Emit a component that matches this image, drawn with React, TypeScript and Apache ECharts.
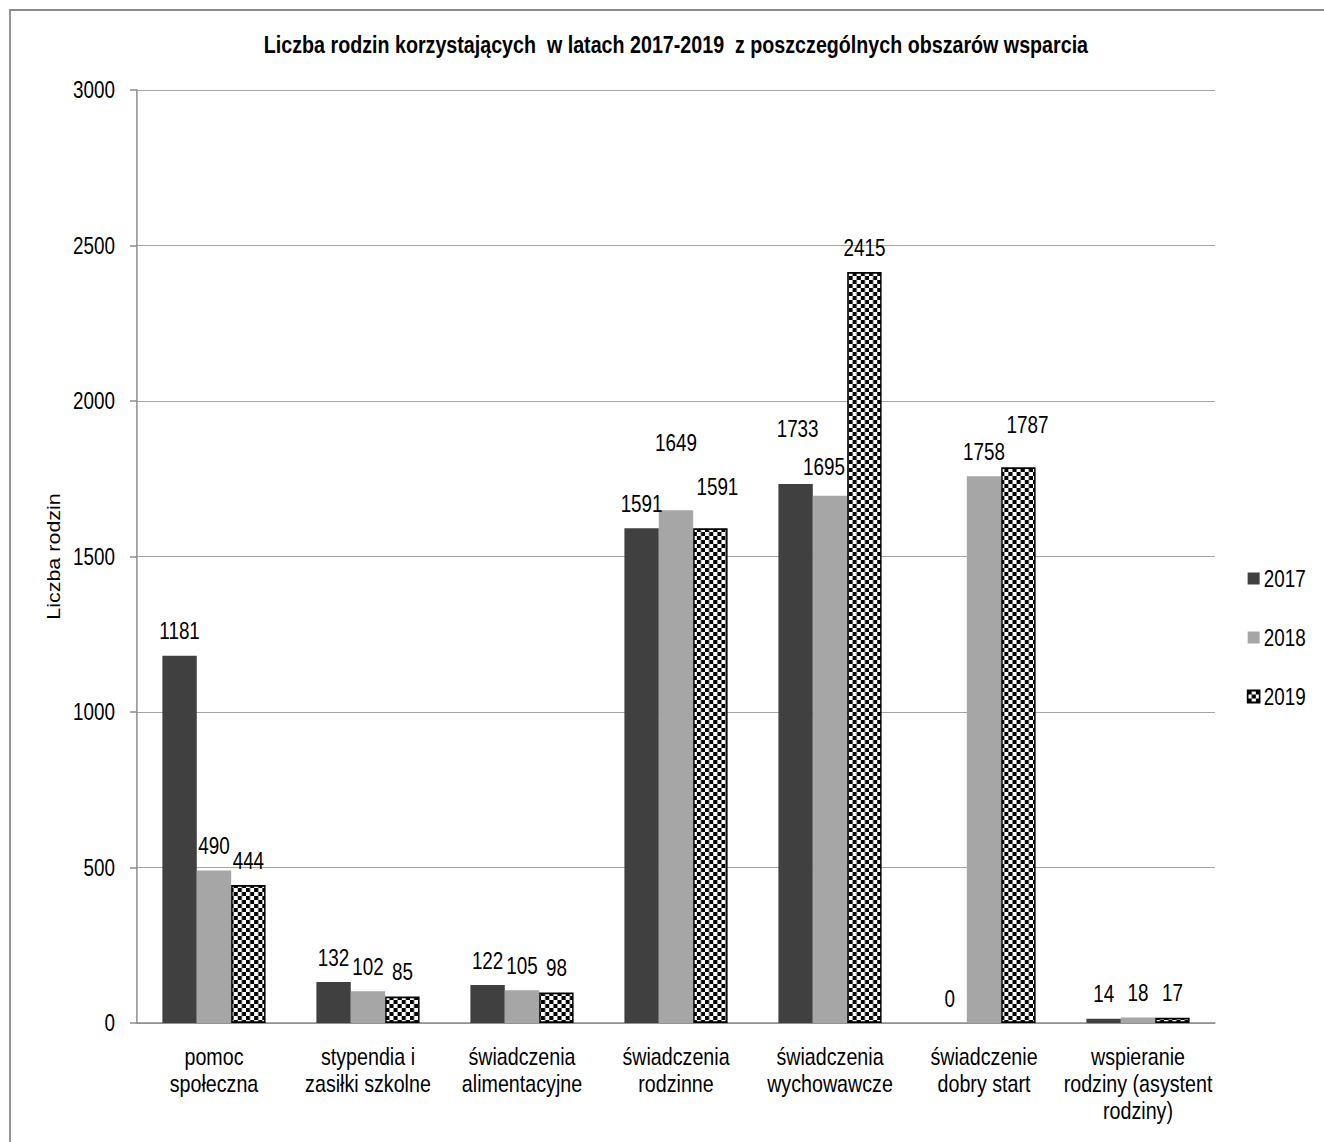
import React, { useEffect, useRef } from "react";
import * as echarts from "echarts";

const chartTitle =
  "Liczba rodzin korzystających  w latach 2017-2019  z poszczególnych obszarów wsparcia";
const yAxisName = "Liczba rodzin";
const categories = [
  "pomoc\nspołeczna",
  "stypendia i\nzasiłki szkolne",
  "świadczenia\nalimentacyjne",
  "świadczenia\nrodzinne",
  "świadczenia\nwychowawcze",
  "świadczenie\ndobry start",
  "wspieranie\nrodziny (asystent\nrodziny)",
];
const seriesNames = ["2017", "2018", "2019"];
const values2017 = [1181, 132, 122, 1591, 1733, 0, 14];
const values2018 = [490, 102, 105, 1649, 1695, 1758, 18];
const values2019 = [444, 85, 98, 1591, 2415, 1787, 17];
const yMin = 0;
const yMax = 3000;
const yInterval = 500;

const FONT = "'Liberation Sans', Arial, sans-serif";

// The original uses a narrow (condensed) typeface; emulate it by drawing the
// chart wider and compressing it horizontally.
const VIEW_W = 1324;
const VIEW_H = 1142;
const SQUEEZE = 0.82;
const INNER_W = Math.round(VIEW_W / SQUEEZE);
const sx = (px: number) => px / SQUEEZE; // visual px -> internal px (horizontal)

function makeChecker(): HTMLCanvasElement {
  const c = document.createElement("canvas");
  const w = 5;
  const h = 4;
  c.width = w * 2;
  c.height = h * 2;
  const ctx = c.getContext("2d")!;
  ctx.fillStyle = "#ffffff";
  ctx.fillRect(0, 0, w * 2, h * 2);
  ctx.fillStyle = "#000000";
  ctx.fillRect(0, 0, w, h);
  ctx.fillRect(w, h, w, h);
  return c;
}

export default function App() {
  const ref = useRef<HTMLDivElement>(null);

  useEffect(() => {
    if (!ref.current) return;
    const chart = echarts.init(ref.current, undefined, {
      renderer: "svg",
      width: INNER_W,
      height: VIEW_H,
    });
    const checker = makeChecker();

    // label offsets (styling only) keyed by "series-category"
    const labelOffsets: Record<string, [number, number]> = {
      "1-3": [0, -43],
      "2-3": [sx(7), -17],
      "0-4": [sx(2), -31],
      "1-4": [sx(-6), -5],
      "2-5": [sx(9), -18],
    };

    const allValues = [values2017, values2018, values2019];
    const styles = [
      { color: "#404040" },
      { color: "#a6a6a6" },
      {
        color: {
          image: checker,
          repeat: "repeat",
          imageWidth: 10,
          imageHeight: 8,
        },
        borderColor: "#000000",
        borderWidth: 1.8,
      },
    ];

    const series = seriesNames.map((name, si) => ({
      name,
      type: "bar",
      barGap: "0%",
      barCategoryGap: "33%",
      itemStyle: styles[si],
      label: {
        show: true,
        position: "top",
        distance: 13,
        color: "#000",
        fontSize: 23,
        fontFamily: FONT,
      },
      data: allValues[si].map((v, ci) => {
        const off = labelOffsets[`${si}-${ci}`];
        return off ? { value: v, label: { offset: off } } : { value: v };
      }),
    }));

    chart.setOption({
      animation: false,
      backgroundColor: "#ffffff",
      textStyle: { fontFamily: FONT },
      title: {
        text: chartTitle,
        left: sx(672),
        textAlign: "center",
        top: 28,
        textStyle: {
          fontSize: 24,
          fontWeight: "bold",
          color: "#000",
          fontFamily: FONT,
        },
      },
      graphic: [
        {
          type: "rect",
          shape: { x: sx(10), y: 10, width: INNER_W + 100, height: VIEW_H + 100 },
          style: { fill: "none", stroke: "#8a8a8a", lineWidth: 2.2 },
          silent: true,
          z: -1,
        },
      ],
      legend: {
        orient: "vertical",
        left: sx(1243),
        top: 562,
        itemWidth: sx(12),
        itemHeight: 12,
        itemGap: 36,
        itemTextGap: sx(6),
        icon: "rect",
        textStyle: { fontSize: 23, color: "#000", fontFamily: FONT },
        data: seriesNames,
      },
      grid: {
        left: sx(137),
        right: sx(109),
        top: 90,
        bottom: 119,
        containLabel: false,
      },
      xAxis: {
        type: "category",
        data: categories,
        axisLine: { show: true, lineStyle: { color: "#8c8c8c", width: 1.5 } },
        axisTick: { show: false },
        axisLabel: {
          interval: 0,
          margin: 20,
          fontSize: 24,
          lineHeight: 27,
          color: "#000",
          fontFamily: FONT,
        },
      },
      yAxis: {
        type: "value",
        min: yMin,
        max: yMax,
        interval: yInterval,
        name: yAxisName,
        nameLocation: "middle",
        nameGap: sx(74),
        nameTextStyle: { fontSize: 21.5, color: "#000", fontFamily: FONT },
        axisLine: { show: true, lineStyle: { color: "#8c8c8c", width: 1.8 } },
        axisTick: {
          show: true,
          inside: false,
          length: sx(7),
          lineStyle: { color: "#8c8c8c", width: 1.5 },
        },
        axisLabel: {
          margin: sx(22),
          fontSize: 23,
          color: "#000",
          fontFamily: FONT,
          formatter: (v: number) => String(v),
        },
        splitLine: { show: true, lineStyle: { color: "#9a9a9a", width: 1 } },
      },
      series,
    });

    return () => chart.dispose();
  }, []);

  return (
    <div
      style={{
        position: "fixed",
        left: 0,
        top: 0,
        width: VIEW_W,
        height: VIEW_H,
        overflow: "hidden",
        background: "#fff",
      }}
    >
      <div
        ref={ref}
        style={{
          width: INNER_W,
          height: VIEW_H,
          transform: `scaleX(${VIEW_W / INNER_W})`,
          transformOrigin: "0 0",
        }}
      />
    </div>
  );
}
